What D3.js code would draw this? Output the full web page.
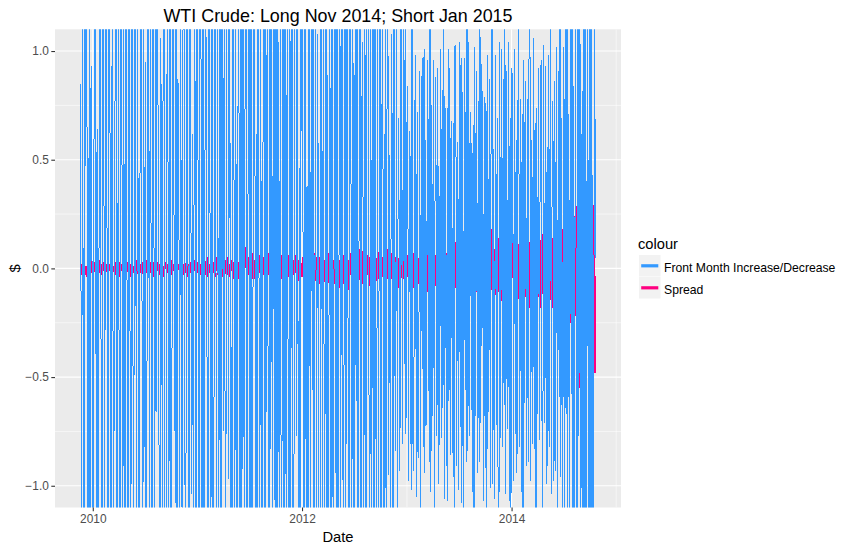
<!DOCTYPE html>
<html>
<head>
<meta charset="utf-8">
<script src="https://d3js.org/d3.v7.min.js"></script>
<style>
  body { margin: 0; background: #fff; }
  text { font-family: "Liberation Sans", Arial, sans-serif; }
</style>
</head>
<body>
<div id="chart"></div>
<script>
// first and last trading day of the Nov 2014 / Jan 2015 pair
const startDate = new Date(2009, 10, 20);
const endDate = new Date(2014, 9, 20);

// front month daily change ($), sampled every few days, one list per year
const front2009 = [0.85, -2.10, 1.64, -0.76, -1.92, 1.38, 0.47, 1.85, -2.24, -0.62, 1.15, -1.71, 0.93, 0.21];
const front2010 = [
    -1.52, -0.43, 1.87, 2.31, -1.26, 0.64, -2.05, -0.58, 1.93, 0.41,
    -0.87, -2.46, 1.72, 0.38, -1.18, 2.63, 1.55, -0.92, -1.27, 1.84,
    0.72, -2.02, 0.66, 1.39, -1.81, -0.28, 0.95, 2.17, -1.46, -0.38,
    1.63, -2.24, -0.79, 1.96, 0.45, -1.35, 1.52, -1.89, -0.62, 2.38,
    -0.74, -1.67, 1.21, 0.55, -2.55, 0.88, 1.74, -1.12, -0.45, 1.93,
    0.36, -1.76, 2.29, -0.97, -1.58, 0.63, 1.86, 0.52, -2.41, 1.17,
    -0.82, 0.95, -1.44, -0.57, 2.12, 0.69, -1.33, 2.19, -0.71, -1.26,
    1.98, 0.48, -1.83, 1.59, -0.66, 2.44, 0.37, -0.83, -1.92, 1.06,
    0.39, -1.61, 2.07, 0.91, -1.42, -2.27, 0.54, 1.78, -1.15, -0.72,
    1.89, -1.49, -0.68, 2.33, 0.64, -0.31, -1.08, 2.26, -1.73, 0.87,
    0.59, -1.52, 1.98, -0.76, -1.23, 1.41, 2.15, -0.84, -1.62, 0.47,
    1.97, -0.89, -1.79, 2.36, 0.41, -1.04, 0.62, -2.12, 1.46, 0.73,
    -1.81, 1.29];
const front2011 = [
    1.74, -2.28, -0.93, 2.46, 0.57, -1.52, 2.63, -1.89, -0.78, 2.14,
    0.36, -0.64, -2.71, 1.92, 1.18, -2.45, 0.86, 1.67, -2.19, -0.43,
    2.38, 0.53, -1.91, 2.82, -2.04, -0.31, 1.69, -2.57, 1.96, 0.42,
    -0.75, 2.27, -1.86, -0.58, 2.39, 1.63, -0.97, 2.51, -1.44, -0.36,
    -2.13, 1.85, 0.82, -2.06, 1.71, -0.94, -2.48, 1.52, 0.67, -1.98,
    2.24, -1.27, -0.49, 2.61, -1.79, 0.88, 2.35, -1.63, -1.02, 2.17,
    0.81, -1.94, 2.52, -1.36, -0.73, 1.89, 2.69, -1.41, 0.62, -2.26,
    1.88, 0.57, -2.43, 2.09, -1.14, -1.76, 0.97, 2.84, -2.31, 1.18,
    -0.66, 2.58, -1.93, -1.47, 2.72, -0.83, 1.69, -2.36, 2.12, 0.94,
    -1.58, 2.77, -2.21, 1.26, 0.48, -2.53, 2.19, -1.67, -0.74, 1.91,
    -2.34, 1.43, 0.86, -2.29, 1.81, -0.58, -2.07, 1.72, -1.23, 0.92,
    1.56, -2.18, -0.69, 1.47, 2.03, -0.77, 1.34, -1.92, 0.46, -1.38,
    1.84, 0.63];
const front2012 = [
    1.27, -1.95, -0.72, 2.18, -1.46, 0.38, -2.07, 1.63, 0.84, -1.91,
    1.72, -0.56, 2.34, -1.21, -0.67, 1.85, -2.29, 1.08, 0.43, -1.52,
    -1.88, 2.11, 0.76, -1.54, 1.97, -1.16, -0.63, 2.42, -1.83, 0.89,
    -2.36, 1.44, 0.58, -1.76, 2.13, -0.97, -1.37, 2.26, 0.71, -1.69,
    2.03, -1.28, -0.52, 2.44, -1.81, 0.93, 2.17, -1.62, -0.44, 1.97,
    -1.58, 0.82, 2.39, -1.74, -1.12, 2.21, 0.68, -1.86, 1.43, 0.35,
    -2.08, 1.69, -0.61, 2.24, -1.89, -0.78, 1.33, 1.95, -2.27, 1.04,
    0.49, -1.73, 2.16, -0.91, -1.58, 2.31, 1.07, -0.54, -1.62, 1.94,
    -2.09, 0.73, 1.51, -1.83, 2.12, -0.66, -1.38, 1.77, -2.15, 0.87,
    1.26, -1.91, 0.62, 1.47, -1.85, -0.43, 1.19, -1.56, 0.78, 1.24,
    -0.95, 0.52, -1.36, 1.08, 0.61, -1.29, 1.43, -0.37, -0.84, 1.17,
    -1.22, 0.69, 0.28, -0.93, 1.34, 0.56, -0.81, 1.27, -0.44, 1.12,
    -0.76, 0.63];
const front2013 = [
    0.84, -0.98, 0.63, 0.47, -1.02, 1.31, -0.78, -0.93, 0.56, 0.98,
    -1.05, 0.72, -0.87, -0.41, 0.91, -1.26, 0.73, 0.97, -0.82, 1.01,
    -0.94, 0.59, -0.72, 0.96, 0.51, -0.89, 1.37, -1.03, 0.75, -0.68,
    0.96, -1.47, 0.88, 0.44, -0.77, 0.92, -0.99, -0.53, 1.01, -0.78,
    0.82, -0.64, 1.26, -1.06, 0.74, -0.54, -1.07, 1.01, -0.61, 0.92,
    -0.86, 0.68, -0.85, 0.67, -1.29, 1.03, 0.76, -0.91, 0.58, -1.02,
    1.04, -0.73, 0.97, -1.08, 0.81, -1.42, 0.97, 0.56, -0.89, 1.33,
    -0.84, 1.04, -0.77, 0.72, 0.48, -1.03, 0.66, -1.36, 1.02, -0.68,
    0.91, -0.94, 0.77, -0.89, 1.13, -0.71, 0.94, 0.61, -1.07, 0.79,
    -0.92, 0.76, -1.24, 0.98, -0.66, 0.87, -1.01, 0.83, 1.45, -0.99,
    0.55, -1.06, 0.98, -0.72, 0.69, -0.97, -1.33, 1.04, -0.78, 1.01,
    -0.82, 0.87, -0.63, 1.16, -1.04, 0.91, -0.74, 1.04, -1.07, 0.69,
    -1.21, 0.92];
const front2014 = [
    0.83, -0.98, 1.01, -0.76, 0.59, -0.94, 0.67, 1.16, -0.82, 0.78,
    -1.03, 0.71, -1.37, 0.96, -0.62, 0.86, -0.91, 0.78, -0.89, 0.97,
    1.34, -0.98, 0.59, -0.81, 1.06, -0.83, 0.67, -1.42, 0.74, -0.67,
    0.92, -0.79, 0.61, 0.96, -0.65, -1.16, 1.03, -0.71, 0.93, -0.99,
    0.56, -0.91, 0.98, -0.82, 1.14, -1.04, 0.77, 0.56, -0.98, 0.86,
    -0.93, 1.02, -1.47, 0.91, -0.59, 1.28, -0.96, 0.69, -1.26, 1.02,
    -1.38, 1.19, -0.67, 1.52, -1.23, 0.71, -1.64, 1.33, -0.58, 1.48,
    -1.71, 0.84, -1.29, 1.67, -0.93, -1.82, 1.46, -0.77, 1.93, -1.56,
    0.62, -2.14, 1.71, -1.38, 2.06, -1.88, -0.91, 2.32, -2.47, 1.58,
    -2.26, 1.83, -1.94, 0.43, -2.38, 2.11, 0.05];

// spread (Nov 2014 - Jan 2015) daily change ($)
const spread2009 = [0.02, -0.03, 0.03, -0.02, 0.04, -0.03, 0.01, -0.04, 0.03, -0.01, 0.02, -0.03, 0.04, -0.02];
const spread2010 = [
    0.02, -0.01, 0.03, -0.02, 0.01, -0.03, 0.02, 0.04, -0.02, 0.01,
    -0.03, 0.02, -0.01, 0.03, -0.04, 0.02, 0.01, -0.02, 0.03, -0.01,
    0.02, -0.03, 0.04, -0.02, 0.01, -0.01, 0.03, -0.03, 0.02, -0.02,
    0.01, 0.03, -0.04, 0.02, -0.01, 0.02, -0.03, 0.01, 0.04, -0.02,
    -0.01, 0.03, -0.02, 0.02, -0.04, 0.01, 0.03, -0.02, 0.01, -0.03,
    0.04, -0.01, 0.02, -0.03, 0.01, 0.02, -0.02, 0.03, -0.01, -0.03,
    0.02, 0.01, -0.02, 0.04, -0.03, 0.02, -0.01, 0.03, -0.02, 0.01,
    -0.04, 0.03, -0.01, 0.02, -0.02, 0.01, 0.03, -0.03, 0.02, -0.01,
    0.03, -0.02, 0.01, -0.04, 0.02, 0.03, -0.01, 0.02, -0.03, 0.01,
    -0.02, 0.04, -0.03, 0.01, 0.02, -0.02, 0.03, -0.01, -0.03, 0.02,
    0.01, -0.02, 0.03, -0.01, 0.04, -0.03, 0.02, -0.02, 0.01, 0.03,
    -0.04, 0.02, -0.01, 0.03, -0.02, 0.01, 0.02, -0.03, 0.04, -0.01,
    0.02, -0.02];
const spread2011 = [
    0.03, -0.02, 0.04, -0.03, 0.02, -0.05, 0.03, -0.01, 0.04, -0.03,
    0.02, -0.04, 0.05, -0.02, 0.01, 0.03, -0.05, 0.04, -0.02, 0.03,
    -0.04, 0.02, 0.05, -0.03, 0.02, -0.04, 0.03, -0.02, 0.06, -0.04,
    0.03, -0.05, 0.02, 0.04, -0.03, 0.05, -0.02, -0.04, 0.03, -0.01,
    0.04, -0.05, 0.03, -0.02, 0.06, -0.04, 0.02, 0.03, -0.05, 0.04,
    -0.03, 0.05, -0.06, 0.12, -0.04, 0.03, 0.10, -0.05, 0.04, -0.03,
    0.06, -0.04, 0.02, -0.05, 0.07, -0.03, 0.04, -0.06, 0.03, 0.05,
    -0.04, 0.06, -0.02, 0.04, -0.05, 0.08, -0.03, 0.05, -0.06, 0.02,
    0.04, -0.05, 0.07, -0.03, 0.05, -0.04, 0.06, -0.02, -0.05, 0.04,
    -0.03, 0.05, -0.06, 0.03, 0.07, -0.04, 0.02, -0.05, 0.06, -0.03,
    0.04, -0.02, 0.05, -0.06, 0.03, -0.04, 0.06, -0.03, 0.02, 0.05,
    -0.05, 0.04, -0.03, 0.06, -0.02, 0.03, -0.05, 0.04, -0.06, 0.03,
    0.02, -0.04];
const spread2012 = [
    0.05, -0.03, 0.06, -0.05, 0.04, -0.07, 0.03, 0.06, -0.04, 0.05,
    -0.06, 0.04, -0.03, 0.07, -0.05, 0.03, -0.08, 0.06, -0.02, 0.05,
    -0.07, 0.04, 0.06, -0.05, 0.08, -0.03, -0.06, 0.05, -0.04, 0.07,
    0.03, -0.08, 0.06, -0.04, 0.09, -0.05, 0.04, -0.07, 0.05, -0.03,
    0.07, -0.06, 0.04, -0.09, 0.05, 0.08, -0.04, 0.06, -0.07, 0.03,
    -0.05, 0.08, -0.06, 0.04, -0.10, 0.07, -0.03, 0.06, -0.05, 0.09,
    -0.07, 0.04, 0.06, -0.08, 0.05, -0.04, 0.09, -0.06, 0.03, -0.07,
    0.08, -0.05, 0.04, -0.09, 0.07, -0.03, 0.06, -0.08, 0.05, 0.04,
    -0.06, 0.09, -0.04, 0.07, -0.08, 0.05, -0.06, 0.10, -0.05, 0.03,
    0.07, -0.09, 0.05, -0.04, 0.08, -0.06, 0.04, -0.07, 0.09, -0.05,
    0.06, -0.08, 0.04, 0.07, -0.05, 0.09, -0.07, 0.05, -0.04, 0.08,
    -0.06, 0.05, -0.09, 0.07, -0.04, 0.06, -0.08, 0.10, -0.05, 0.04,
    -0.07, 0.06];
const spread2013 = [
    0.06, -0.08, 0.05, -0.07, 0.09, -0.05, 0.07, -0.09, 0.04, 0.08,
    -0.06, 0.09, -0.07, 0.05, -0.10, 0.08, -0.04, 0.07, -0.09, 0.06,
    0.10, -0.07, 0.05, -0.11, 0.08, -0.06, 0.09, -0.05, 0.12, -0.08,
    0.07, -0.10, 0.06, -0.08, 0.11, -0.07, 0.09, -0.12, 0.05, 0.08,
    -0.09, 0.12, -0.06, 0.10, -0.08, 0.07, -0.11, 0.09, -0.05, 0.13,
    -0.10, 0.08, -0.13, 0.07, 0.11, -0.09, 0.12, -0.06, 0.10, -0.12,
    0.08, -0.11, 0.14, -0.07, 0.09, -0.13, 0.10, -0.08, 0.12, -0.10,
    0.07, 0.13, -0.09, 0.11, -0.14, 0.08, -0.12, 0.10, -0.07, 0.15,
    -0.11, 0.09, -0.13, 0.12, -0.08, 0.14, -0.10, 0.07, -0.15, 0.11,
    0.13, -0.09, 0.16, -0.12, 0.08, -0.14, 0.11, -0.10, 0.18, -0.13,
    0.09, -0.16, 0.12, -0.08, 0.20, -0.11, 0.14, -0.10, 0.13, -0.15,
    0.11, -0.13, 0.17, -0.09, 0.12, -0.16, 0.10, 0.14, -0.12, 0.09,
    -0.14, 0.12];
const spread2014 = [
    0.13, -0.10, 0.15, -0.12, 0.09, -0.16, 0.11, -0.14, 0.18, -0.09,
    0.12, -0.17, 0.14, -0.11, 0.16, -0.13, 0.10, 0.19, -0.15, 0.12,
    -0.18, 0.14, -0.11, 0.17, -0.15, 0.12, -0.20, 0.16, -0.13, 0.11,
    0.19, -0.14, 0.13, -0.18, 0.16, -0.12, 0.21, -0.17, 0.14, -0.19,
    0.15, -0.13, 0.18, -0.16, 0.12, 0.20, -0.18, 0.14, -0.22, 0.17,
    -0.15, 0.19, -0.13, 0.22, -0.18, 0.16, -0.21, 0.14, -0.17, 0.23,
    -0.19, 0.17, -0.24, 0.20, -0.16, 0.26, -0.21, 0.18, -0.25, 0.22,
    -0.18, 0.24, -0.27, 0.21, -0.19, 0.28, 0.33, -0.30, -0.55, 0.25,
    -0.22, 0.29, -0.26, 0.31, -0.24, 0.27, -0.35, 0.30, -0.28, 0.24,
    0.32, -0.31, 0.27, -0.36, 0.29, 0.20, -0.48];

const yTicks = [-1.0, -0.5, 0.0, 0.5, 1.0];
const yMinor = [-0.75, -0.25, 0.25, 0.75];
const xTicks = [new Date(2010, 0, 1), new Date(2012, 0, 1), new Date(2014, 0, 1)];
const xMinor = [new Date(2011, 0, 1), new Date(2013, 0, 1), new Date(2015, 0, 1)];
const seriesNames = ["Front Month Increase/Decrease", "Spread"];
const seriesColors = ["#3399FF", "#FF0080"];

const frontValues = [].concat(front2009, front2010, front2011, front2012, front2013, front2014);
const spreadValues = [].concat(spread2009, spread2010, spread2011, spread2012, spread2013, spread2014);
const n = frontValues.length;
const dates = d3.range(n).map(i => new Date(+startDate + (endDate - startDate) * i / (n - 1)));

const width = 861, height = 552;
const panel = { left: 55, right: 621, top: 29.3, bottom: 507.5 };

const svg = d3.select("#chart").append("svg")
    .attr("width", width)
    .attr("height", height);

const span = endDate - startDate;
const x = d3.scaleTime()
    .domain([new Date(+startDate - span * 0.05), new Date(+endDate + span * 0.05)])
    .range([panel.left, panel.right]);

const y = d3.scaleLinear()
    .domain([-1.1, 1.1])
    .range([panel.bottom, panel.top]);

svg.append("rect")
    .attr("x", panel.left).attr("y", panel.top)
    .attr("width", panel.right - panel.left)
    .attr("height", panel.bottom - panel.top)
    .attr("fill", "#EBEBEB");

svg.append("clipPath").attr("id", "clip")
    .append("rect")
    .attr("x", panel.left).attr("y", panel.top)
    .attr("width", panel.right - panel.left)
    .attr("height", panel.bottom - panel.top);

// grid
const grid = svg.append("g").attr("stroke", "#fff").attr("clip-path", "url(#clip)");
grid.selectAll(".ymin").data(yMinor).enter().append("line")
    .attr("x1", panel.left).attr("x2", panel.right)
    .attr("y1", d => y(d)).attr("y2", d => y(d))
    .attr("stroke-width", 0.55);
grid.selectAll(".xmin").data(xMinor).enter().append("line")
    .attr("y1", panel.top).attr("y2", panel.bottom)
    .attr("x1", d => x(d)).attr("x2", d => x(d))
    .attr("stroke-width", 0.55);
grid.selectAll(".ymaj").data(yTicks).enter().append("line")
    .attr("x1", panel.left).attr("x2", panel.right)
    .attr("y1", d => y(d)).attr("y2", d => y(d))
    .attr("stroke-width", 1.1);
grid.selectAll(".xmaj").data(xTicks).enter().append("line")
    .attr("y1", panel.top).attr("y2", panel.bottom)
    .attr("x1", d => x(d)).attr("x2", d => x(d))
    .attr("stroke-width", 1.1);

// lines: spread underneath, front month on top
const line = d3.line()
    .x((d, i) => x(dates[i]))
    .y(d => y(d));

const plot = svg.append("g").attr("clip-path", "url(#clip)");
plot.append("path")
    .attr("d", line(spreadValues))
    .attr("fill", "none")
    .attr("stroke", seriesColors[1])
    .attr("stroke-width", 1.6)
    .attr("shape-rendering", "crispEdges");
plot.append("path")
    .attr("d", line(frontValues))
    .attr("fill", "none")
    .attr("stroke", seriesColors[0])
    .attr("stroke-width", 1)
    .attr("shape-rendering", "crispEdges");

// axes
const yAxis = svg.append("g")
    .attr("transform", `translate(${panel.left},0)`)
    .call(d3.axisLeft(y).tickValues(yTicks).tickFormat(d3.format(".1f")).tickSize(3.7).tickPadding(2.5));
const xAxis = svg.append("g")
    .attr("transform", `translate(0,${panel.bottom})`)
    .call(d3.axisBottom(x).tickValues(xTicks).tickFormat(d3.timeFormat("%Y")).tickSize(3.7).tickPadding(3));
[yAxis, xAxis].forEach(a => {
    a.select(".domain").remove();
    a.selectAll(".tick line").attr("stroke", "#333333").attr("stroke-width", 1.1);
    a.selectAll(".tick text")
        .attr("fill", "#4D4D4D")
        .style("font-size", "11.9px")
        .style("font-family", "Liberation Sans, Arial, sans-serif");
});

// titles
svg.append("text")
    .attr("x", (panel.left + panel.right) / 2).attr("y", 22)
    .attr("text-anchor", "middle")
    .style("font-size", "17.9px")
    .text("WTI Crude: Long Nov 2014; Short Jan 2015");
svg.append("text")
    .attr("x", (panel.left + panel.right) / 2).attr("y", 542)
    .attr("text-anchor", "middle")
    .style("font-size", "14.7px")
    .text("Date");
svg.append("text")
    .attr("transform", `translate(20,${(panel.top + panel.bottom) / 2}) rotate(-90)`)
    .attr("text-anchor", "middle")
    .style("font-size", "14.7px")
    .text("$");

// legend
const legend = svg.append("g").attr("transform", "translate(638,0)");
legend.append("text")
    .attr("x", 0).attr("y", 249)
    .style("font-size", "14.7px")
    .text("colour");
const keys = legend.selectAll(".key")
    .data(seriesNames)
    .enter().append("g")
    .attr("transform", (d, i) => `translate(1,${255 + i * 22})`);
keys.append("rect")
    .attr("width", 21.5).attr("height", 21.5)
    .attr("fill", "#F2F2F2");
keys.append("line")
    .attr("x1", 2.2).attr("x2", 19.3)
    .attr("y1", 10.8).attr("y2", 10.8)
    .attr("stroke", (d, i) => seriesColors[i])
    .attr("stroke-width", 3.2);
keys.append("text")
    .attr("x", 25).attr("y", 16.8)
    .style("font-size", "12.2px")
    .text(d => d);
</script>
</body>
</html>
